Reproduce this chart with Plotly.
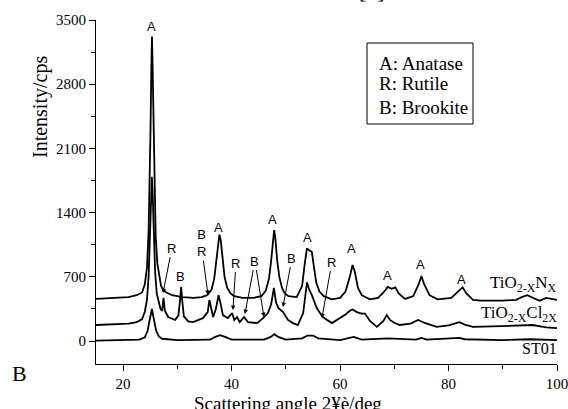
import plotly.graph_objects as go

# ---- data ----
angle_n = [15.0, 17.0, 19.0, 21.0, 22.5, 23.5, 24.0, 24.4, 24.7, 24.9, 25.05, 25.2, 25.32, 25.45, 25.6,
           25.8, 26.0, 26.3, 26.7, 27.0, 27.4, 28.0, 29.0, 31.0, 33.0, 34.5, 35.5, 36.3, 36.8, 37.2,
           37.5, 37.75, 38.0, 38.3, 38.7, 39.2, 39.8, 40.5, 42.0, 44.0, 45.5, 46.3, 46.9, 47.3, 47.6,
           47.85, 48.1, 48.4, 48.8, 49.3, 49.8, 50.5, 52.0, 53.0, 53.5, 53.9, 54.3, 54.8, 55.2, 55.6,
           56.2, 57.0, 58.5, 60.0, 61.0, 61.8, 62.3, 62.7, 63.3, 64.0, 65.5, 67.0, 68.0, 68.8, 69.5,
           70.2, 70.8, 72.0, 73.5, 74.5, 75.0, 75.5, 76.5, 78.0, 80.5, 81.8, 82.6, 83.3, 84.5, 86.0,
           90.0, 92.5, 93.5, 94.5, 95.5, 96.8, 98.0, 99.0, 100.0]
int_n = [460, 465, 470, 480, 500, 530, 620, 800, 1200, 1700, 2300, 2950, 3320, 2950, 2300,
         1600, 1150, 850, 680, 600, 556, 530, 500, 480, 470, 480, 500, 560, 680, 880,
         1080, 1160, 1100, 900, 700, 580, 520, 490, 470, 470, 490, 550, 680, 880, 1100,
         1210, 1100, 880, 700, 580, 520, 490, 480, 600, 850, 1010, 990, 970, 800, 640,
         540, 490, 455, 470, 540, 700, 830, 760, 580, 500, 455, 470, 530, 590, 570,
         585, 520, 460, 490, 620, 710, 620, 500, 455, 470, 540, 585, 520, 450, 440,
         440, 450, 480, 500, 475, 440, 470, 460, 450]

angle_cl = [15.0, 17.0, 19.0, 21.0, 22.5, 23.5, 24.0, 24.4, 24.7, 24.95, 25.15, 25.3, 25.45, 25.65, 25.9,
            26.2, 26.6, 26.9, 27.2, 27.45, 27.7, 28.3, 29.6, 30.2, 30.5, 30.7, 30.9, 31.2, 32.0, 32.9,
            34.7, 35.6, 35.9, 36.2, 36.6, 37.1, 37.6, 38.0, 38.4, 39.3, 40.1, 40.5, 41.0, 41.5, 42.3,
            43.0, 44.7, 45.8, 46.7, 47.3, 47.8, 48.2, 48.6, 49.5, 50.4, 51.3, 52.2, 53.2, 53.6, 53.9,
            54.3, 54.8, 55.7, 56.8, 58.5, 60.0, 61.0, 61.8, 62.3, 63.1, 64.0, 64.6, 65.5, 66.8, 68.0,
            68.6, 69.2, 70.0, 71.0, 73.0, 74.4, 75.5, 77.8, 80.0, 82.0, 83.0, 84.5, 88.0, 92.0, 95.5,
            98.0, 100.0]
int_cl = [175, 180, 185, 190, 205, 240, 320, 450, 700, 1100, 1550, 1790, 1600, 1150, 750,
          520, 400, 350, 330, 470, 330, 262, 230, 280, 450, 590, 440, 270, 215, 207,
          250, 316, 447, 360, 262, 350, 500, 400, 283, 250, 305, 230, 262, 207, 262,
          207, 196, 250, 305, 400, 580, 420, 360, 316, 230, 196, 175, 305, 480, 640,
          560, 500, 360, 262, 196, 250, 290, 330, 345, 316, 300, 300, 220, 155, 220,
          285, 230, 200, 175, 190, 230, 200, 155, 170, 205, 180, 155, 160, 165, 175,
          150, 140]

angle_st = [15, 20, 23, 24.0, 24.5, 24.9, 25.3, 25.7, 26.1, 26.6, 27.2, 30, 36, 37, 37.9, 38.8, 40,
            46, 47.2, 47.9, 48.6, 50, 53, 54, 55, 56, 60, 62.5, 64, 68.8, 70.5, 74, 75, 76, 82, 83,
            90, 95, 100]
int_st = [5, 8, 15, 40, 110, 230, 350, 230, 110, 50, 25, 10, 15, 45, 65, 45, 15,
          15, 45, 75, 45, 15, 30, 60, 60, 30, 10, 45, 15, 30, 25, 15, 35, 15, 35, 20,
          10, 20, 10]

x_ticks = [20, 40, 60, 80, 100]
y_ticks = [0, 700, 1400, 2100, 2800, 3500]

# peak labels without arrows: (text, angle, intensity)
plain_labels = [("A", 25.32, 3424), ("B", 30.67, 709), ("A", 37.67, 1243), ("A", 47.63, 1330),
                ("A", 54.08, 1134), ("A", 62.19, 1014), ("A", 68.82, 720), ("A", 74.91, 840),
                ("A", 82.46, 676)]
# arrow labels: (text, head angle, head intensity, text offset x px, text offset y px, visible)
arrow_labels = [("R", 27.35, 523, 9, -45, True), ("B<br>R", 35.65, 502, -7, -52, True),
                ("R", 40.25, 338, 3, -47, True), ("B", 42.46, 294, 10, -53, True),
                ("B", 45.97, 262, -9, -56, False), ("B", 49.47, 371, 9, -49, True),
                ("R", 56.66, 251, 10, -56, True)]

serif = "Liberation Serif"
sans = "Liberation Sans"

fig = go.Figure()
for xs, ys in [(angle_st, int_st), (angle_cl, int_cl), (angle_n, int_n)]:
    fig.add_trace(go.Scatter(x=xs, y=ys, mode="lines", line=dict(color="black", width=1.8),
                             showlegend=False, hoverinfo="skip"))

ann = []
for t, x, y in plain_labels:
    ann.append(dict(text=t, x=x, y=y, xref="x", yref="y", showarrow=False,
                    font=dict(family=sans, size=13, color="black")))
for t, x, y, ax, ay, vis in arrow_labels:
    ann.append(dict(text=t, x=x, y=y, xref="x", yref="y", showarrow=True, ax=ax, ay=ay,
                    arrowhead=2, arrowsize=0.9, arrowwidth=1, arrowcolor="black",
                    font=dict(family=sans, size=13, color="black" if vis else "rgba(0,0,0,0)")))

# curve names
ann.append(dict(text="TiO<sub>2-X</sub>N<sub>X</sub>", x=1.005, y=0.232, xref="paper", yref="paper",
                xanchor="right", yanchor="middle", showarrow=False, font=dict(family=serif, size=17, color="black")))
ann.append(dict(text="TiO<sub>2-X</sub>Cl<sub>2X</sub>", x=1.005, y=0.145, xref="paper", yref="paper",
                xanchor="right", yanchor="middle", showarrow=False, font=dict(family=serif, size=17, color="black")))
ann.append(dict(text="ST01", x=1.005, y=0.045, xref="paper", yref="paper",
                xanchor="right", yanchor="middle", showarrow=False, font=dict(family=serif, size=16, color="black")))

# key box text
for i, t in enumerate(["A: Anatase", "R: Rutile", "B: Brookite"]):
    ann.append(dict(text=t, x=0.6095, y=[0.875, 0.815, 0.746][i], xref="paper", yref="paper",
                    xanchor="left", yanchor="middle", showarrow=False,
                    font=dict(family=serif, size=19, color="black")))

# axis titles and extra text
ann.append(dict(text="Intensity/cps", x=-0.1215, y=0.747, xref="paper", yref="paper", textangle=-90,
                showarrow=False, xanchor="center", yanchor="middle", font=dict(family=serif, size=20, color="black")))
ann.append(dict(text="Scattering angle 2¥è/deg", x=(288 - 96) / 461, y=-0.114, xref="paper", yref="paper",
                showarrow=False, xanchor="center", yanchor="middle", font=dict(family=serif, size=19, color="black")))
ann.append(dict(text="B", x=(19 - 96) / 461, y=(364 - 373) / 344, xref="paper", yref="paper",
                showarrow=False, xanchor="center", yanchor="middle", font=dict(family=serif, size=22, color="black")))
ann.append(dict(text="[1]", x=(372 - 96) / 461, y=(364 - 5) / 344, xref="paper", yref="paper",
                showarrow=False, xanchor="center", yanchor="bottom", font=dict(family=serif, size=22, color="black")))

fig.update_layout(
    width=568, height=409,
    margin=dict(l=96, r=11, t=20, b=45, autoexpand=False),
    paper_bgcolor="white", plot_bgcolor="white",
    annotations=ann,
    shapes=[dict(type="rect", xref="paper", yref="paper", x0=0.5879, x1=0.8178, y0=0.6977, y1=0.9331,
                 line=dict(color="black", width=1))],
    xaxis=dict(range=[15, 100], tickvals=x_ticks, ticks="outside", ticklen=6, tickcolor="black",
               showline=True, linecolor="black", linewidth=1, showgrid=False, zeroline=False,
               ticklabeloverflow="allow", automargin=False,
               tickfont=dict(family=serif, size=15, color="black"),
               minor=dict(tick0=0, dtick=10, ticks="outside", ticklen=4, tickcolor="black")),
    yaxis=dict(range=[-250, 3500], tickvals=y_ticks, ticks="outside", ticklen=6, tickcolor="black",
               showline=True, linecolor="black", linewidth=1, showgrid=False, zeroline=False,
               automargin=False,
               tickfont=dict(family=serif, size=15, color="black"),
               minor=dict(tick0=0, dtick=350, ticks="outside", ticklen=4, tickcolor="black")),
)

fig.write_html("out.html", config={"displayModeBar": False},
               post_script="document.body.style.margin='0';document.body.style.overflow='hidden';")
